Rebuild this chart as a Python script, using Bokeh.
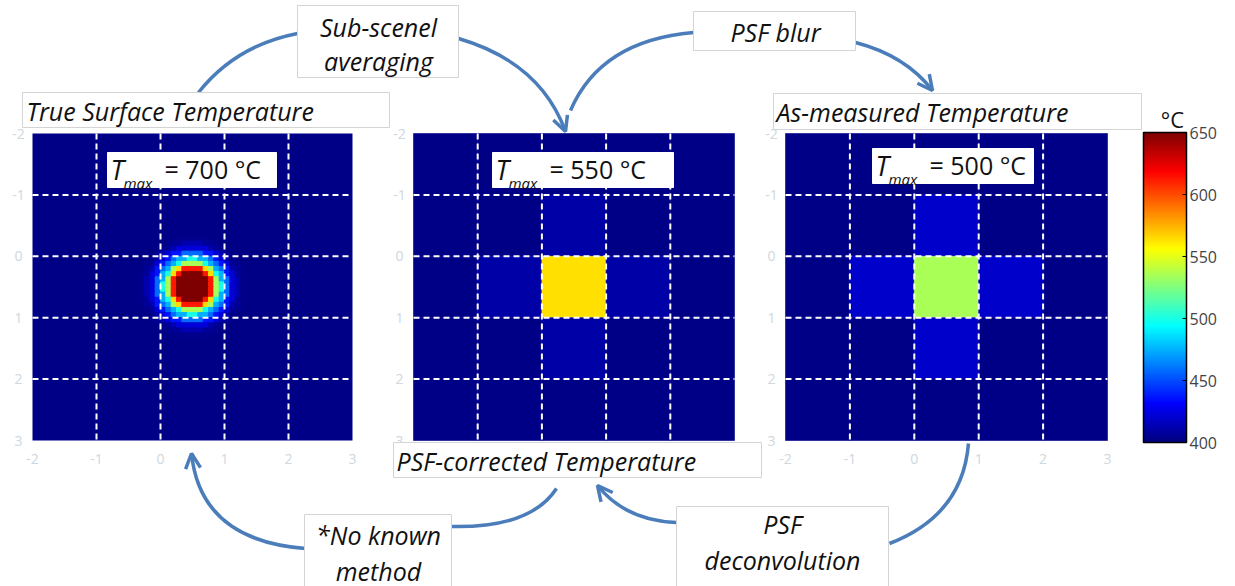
import numpy as np
from bokeh.plotting import figure
from bokeh.models import Range1d, ColorBar, LinearColorMapper, FixedTicker, Arrow, OpenHead, ColumnDataSource
from bokeh.transform import linear_cmap
from bokeh.core.properties import value
from bokeh.embed import file_html
from bokeh.resources import INLINE

# ---------------- data ----------------
tick_values = [-2, -1, 0, 1, 2, 3]
tick_labels = ["-2", "-1", "0", "1", "2", "3"]
grid_lines = [-1, 0, 1, 2]
cbar_ticks = [400, 450, 500, 550, 600, 650]
t_low, t_high = 400, 650
t_background = 402

# True surface temperature: radial profile
true_centre_x, true_centre_y = 0.5, 0.5
true_profile_r = [0.00, 0.05, 0.10, 0.15, 0.20, 0.25, 0.30, 0.35, 0.40, 0.45, 0.50, 0.55, 0.60, 0.65, 0.70, 0.75, 0.80]
true_profile_T = [700, 700, 698, 690, 675, 655, 612, 565, 535, 500, 475, 458, 437, 422, 412, 406, 403]
true_res = 12  # sub-pixels per grid unit

# PSF-corrected (sub-scene averaged) temperature, rows y=-2..2, cols x=-2..2
corrected_T = [
    [402, 402, 402, 402, 402],
    [402, 402, 410, 402, 402],
    [402, 410, 564, 410, 402],
    [402, 402, 410, 402, 402],
    [402, 402, 402, 402, 402],
]
# As-measured temperature
measured_T = [
    [402, 402, 402, 402, 402],
    [402, 402, 419, 402, 402],
    [402, 419, 535, 419, 402],
    [402, 402, 419, 402, 402],
    [402, 402, 402, 402, 402],
]
tmax_values = ["700", "550", "500"]

# ---------------- layout ----------------
W, H = 1235, 586
panels = {
    "true": (32, 133, 352, 440),
    "corr": (413, 133, 734, 440),
    "meas": (785, 133, 1107, 440),
}

def jet(n=256):
    out = []
    for i in range(n):
        t = i / (n - 1)
        r = min(max(1.5 - abs(4 * t - 3), 0), 1)
        g = min(max(1.5 - abs(4 * t - 2), 0), 1)
        b = min(max(1.5 - abs(4 * t - 1), 0), 1)
        out.append("#%02x%02x%02x" % (int(r * 255), int(g * 255), int(b * 255)))
    return out

JET = jet()
BLUE = "#4a7dba"
FONT = value("Open Sans")

p = figure(width=W, height=H, x_range=Range1d(0, W), y_range=Range1d(H, 0),
           output_backend="svg", toolbar_location=None, min_border=0,
           x_axis_location=None, y_axis_location=None,
           outline_line_color=None, background_fill_color="white", border_fill_color="white")
p.grid.visible = False

for name, (L, T, R, B) in panels.items():
    kx = 5.0 / (R - L)
    ky = 5.0 / (B - T)
    p.extra_x_ranges[name] = Range1d(-2 - L * kx, -2 + (W - L) * kx)
    p.extra_y_ranges[name] = Range1d(3 + (H - B) * ky, -2 - T * ky)

cmap = linear_cmap("T", JET, t_low, t_high, high_color=JET[-1], low_color=JET[0])

# true surface: uniform background plus the sub-pixels of the hot spot
bg_src = ColumnDataSource(dict(left=[-2], right=[3], top=[-2], bottom=[3], T=[t_background]))
p.quad(left="left", right="right", top="top", bottom="bottom", source=bg_src,
       fill_color=cmap, line_color=None, x_range_name="true", y_range_name="true")
n = 5 * true_res
prof_r = np.array(true_profile_r)
prof_T = np.array(true_profile_T)
lefts, rights, tops, bottoms, temps = [], [], [], [], []
for j in range(n):
    for i in range(n):
        x0 = -2 + i / true_res
        y0 = -2 + j / true_res
        cx = x0 + 0.5 / true_res
        cy = y0 + 0.5 / true_res
        d = np.hypot(cx - true_centre_x, cy - true_centre_y)
        if d > prof_r[-1] + 0.025:
            continue
        k = int(np.argmin(np.abs(prof_r - d)))
        lefts.append(x0); rights.append(x0 + 1 / true_res)
        tops.append(y0); bottoms.append(y0 + 1 / true_res)
        temps.append(prof_T[k])
src_true = ColumnDataSource(dict(left=lefts, right=rights, top=tops, bottom=bottoms, T=temps))
p.quad(left="left", right="right", top="top", bottom="bottom", source=src_true,
       fill_color=cmap, line_color=cmap, line_width=1,
       x_range_name="true", y_range_name="true")

def grid_source(grid):
    d = dict(left=[], right=[], top=[], bottom=[], T=[])
    for r, row in enumerate(grid):
        for c, v in enumerate(row):
            d["left"].append(-2 + c); d["right"].append(-1 + c)
            d["top"].append(-2 + r); d["bottom"].append(-1 + r)
            d["T"].append(v)
    return ColumnDataSource(d)

for name, grid in (("corr", corrected_T), ("meas", measured_T)):
    p.quad(left="left", right="right", top="top", bottom="bottom", source=grid_source(grid),
           fill_color=cmap, line_color=cmap, line_width=0.6,
           x_range_name=name, y_range_name=name)

# dashed grid + faint tick labels
for name in panels:
    p.segment(x0=grid_lines, y0=[-2] * 4, x1=grid_lines, y1=[3] * 4, line_color="white",
              line_width=2, line_dash="6 4", x_range_name=name, y_range_name=name)
    p.segment(x0=[-2] * 4, y0=grid_lines, x1=[3] * 4, y1=grid_lines, line_color="white",
              line_width=2, line_dash="6 4", x_range_name=name, y_range_name=name)
    p.text(x=tick_values, y=[3] * 6, text=tick_labels, y_offset=18, text_align="center",
           text_baseline="middle", text_font=FONT, text_font_size="14px", text_color="#cdd8e0",
           x_range_name=name, y_range_name=name)
    p.text(x=[-2] * 6, y=tick_values, text=tick_labels, x_offset=-14, text_align="center",
           text_baseline="middle", text_font=FONT, text_font_size="14px", text_color="#cdd8e0",
           x_range_name=name, y_range_name=name)

# ---------------- connectors ----------------
conn_x0 = [198, 458, 693, 855, 968, 676, 556, 305]
conn_y0 = [92, 38, 32, 42, 443, 522, 488, 548]
conn_cx = [235, 540, 600, 905, 962, 625, 530, 200]
conn_cy = [45, 62, 40, 55, 515, 520, 528, 540]
conn_x1 = [297, 565, 570, 932, 889, 597, 450, 191]
conn_y1 = [33, 131, 110, 90, 543, 485, 526, 453]
conn_head = [False, True, False, True, False, True, False, True]

p.quadratic(x0=conn_x0, y0=conn_y0, x1=conn_x1, y1=conn_y1, cx=conn_cx, cy=conn_cy,
            line_color=BLUE, line_width=3.5)
for x0, y0, cx, cy, x1, y1, h in zip(conn_x0, conn_y0, conn_cx, conn_cy, conn_x1, conn_y1, conn_head):
    if h:
        p.add_layout(Arrow(end=OpenHead(size=15, line_color=BLUE, line_width=3.5),
                           x_start=x1 - 0.06 * (x1 - cx), y_start=y1 - 0.06 * (y1 - cy),
                           x_end=x1, y_end=y1, line_color=BLUE, line_width=3.5))

# ---------------- text boxes ----------------
box_l = [22, 773, 393, 297, 693, 304, 676]
box_r = [389, 1141, 761, 458, 855, 451, 888]
box_t = [92, 93, 442, 5, 11, 514, 506]
box_b = [127, 129, 477, 77, 50, 600, 600]
p.quad(left=box_l, right=box_r, top=box_t, bottom=box_b, fill_color="white",
       line_color="#d4d4d4", line_width=1)

title_x = [26, 776, 396]
title_y = [110, 111, 460]
title_text = ["True Surface Temperature", "As-measured Temperature", "PSF-corrected Temperature"]
p.text(x=title_x, y=title_y, text=title_text, text_font=FONT, text_font_style="italic",
       text_font_size="25px", text_color="#111111", text_baseline="middle", text_align="left")

step_x = [378, 378, 775, 378, 378, 782, 782]
step_y = [26, 60, 31, 534, 570, 523, 559]
step_text = ["Sub-scenel", "averaging", "PSF blur", "*No known", "method", "PSF", "deconvolution"]
p.text(x=step_x, y=step_y, text=step_text, text_font=FONT, text_font_style="italic",
       text_font_size="25px", text_color="#111111", text_baseline="middle", text_align="center")

# T_max boxes
tb_l = [107, 492, 872]
tb_r = [276, 673, 1033]
tb_t = [152, 152, 148]
tb_b = [187, 187, 183]
p.quad(left=tb_l, right=tb_r, top=tb_t, bottom=tb_b, fill_color="white", line_color="white")
p.text(x=[l + 3 for l in tb_l], y=[(t + b) / 2 - 1 for t, b in zip(tb_t, tb_b)], text=["T"] * 3,
       text_font=FONT, text_font_style="italic", text_font_size="27px", text_color="#111111",
       text_baseline="middle")
p.text(x=[l + 16 for l in tb_l], y=[b - 5 for b in tb_b], text=["max"] * 3,
       text_font=FONT, text_font_style="italic", text_font_size="15px", text_color="#111111",
       text_baseline="middle")
p.text(x=[l + 57 for l in tb_l], y=[(t + b) / 2 - 1 for t, b in zip(tb_t, tb_b)],
       text=["= %s \u00b0C" % v for v in tmax_values],
       text_font=FONT, text_font_size="25px", text_color="#111111", text_baseline="middle")

# ---------------- colour bar ----------------
mapper = LinearColorMapper(palette=JET, low=t_low, high=t_high)
cb = ColorBar(color_mapper=mapper, ticker=FixedTicker(ticks=cbar_ticks), width=43, height=310,
              location=(1143, H - 442), padding=0, margin=0, label_standoff=3,
              major_label_text_font_size="16px", major_label_text_color="#444444",
              major_label_text_font="Open Sans",
              bar_line_color="black", bar_line_width=1.5,
              major_tick_line_color="black", major_tick_in=4, major_tick_out=0,
              background_fill_alpha=0, border_line_color=None)
p.add_layout(cb)
p.text(x=[1172], y=[118], text=["\u00b0C"], text_font=FONT, text_font_size="22px",
       text_color="#111111", text_align="center", text_baseline="middle")

open("out.html", "w").write(file_html(p, INLINE))
